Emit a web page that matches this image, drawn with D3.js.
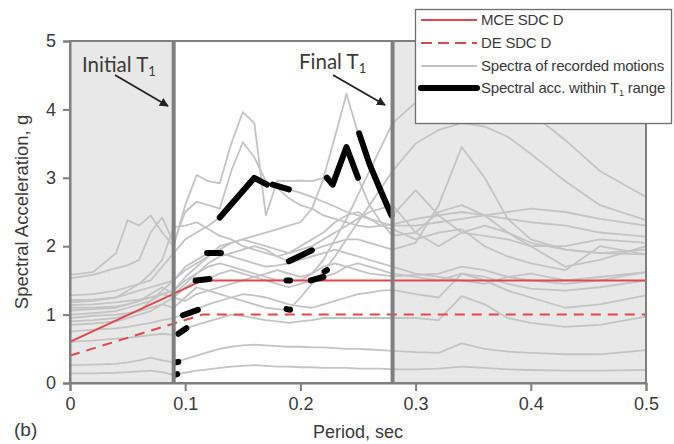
<!DOCTYPE html>
<html>
<head>
<meta charset="utf-8">
<script src="https://cdn.jsdelivr.net/npm/d3@7/dist/d3.min.js"></script>
<style>
  html, body { margin: 0; padding: 0; background: #fff; }
  svg { display: block; }
</style>
</head>
<body>
<svg id="chart" width="674" height="444"></svg>
<script>
// Periods (sec) at which each recorded spectrum is sampled
const periods = [0, 0.02, 0.04, 0.05, 0.06, 0.07, 0.08, 0.09,
  0.10, 0.11, 0.12, 0.13, 0.14, 0.15, 0.16, 0.17, 0.18, 0.19, 0.20, 0.21,
  0.22, 0.23, 0.24, 0.25, 0.26, 0.27, 0.28,
  0.30, 0.32, 0.34, 0.36, 0.38, 0.40, 0.43, 0.46, 0.50];

// Spectral acceleration (g) of the recorded ground motions
const rec01 = [1.58, 1.62, 1.9, 2.38, 2.3, 2.45, 2.2, 2.0, 2.6, 3.04, 2.95, 2.92, 3.5, 3.96, 3.8, 2.45, 2.96, 2.95, 2.96, 2.95, 3.0, 3.6, 4.23, 3.65, 3.2, 2.8, 2.45, 2.82, 2.45, 2.2, 2.15, 2.1, 2.0, 2.0, 2.1, 2.05];
const rec02 = [1.53, 1.58, 1.68, 1.72, 1.8, 2.2, 2.42, 2.05, 2.5, 2.65, 2.6, 2.55, 3.1, 3.52, 3.3, 2.95, 2.85, 2.7, 2.6, 2.55, 2.45, 2.4, 2.35, 2.3, 2.28, 2.3, 2.32, 2.4, 2.45, 2.5, 2.45, 2.4, 2.35, 2.3, 2.2, 2.14];
const rec03 = [1.28, 1.3, 1.35, 1.4, 1.45, 1.5, 1.7, 1.9, 2.1, 2.2, 2.3, 2.42, 2.62, 2.8, 3.0, 2.9, 2.88, 2.83, 2.78, 2.72, 2.65, 2.58, 2.5, 2.45, 2.4, 2.35, 2.3, 2.3, 2.35, 2.4, 2.45, 2.5, 2.55, 2.5, 2.4, 2.3];
const rec04 = [1.21, 1.22, 1.25, 1.3, 1.35, 1.4, 1.45, 1.5, 1.65, 1.75, 1.85, 1.95, 2.05, 2.1, 2.15, 2.2, 2.25, 2.3, 2.35, 2.55, 2.98, 2.9, 3.45, 3.0, 2.6, 2.35, 2.15, 2.2, 2.5, 2.6, 2.45, 2.2, 2.05, 1.95, 1.9, 1.88];
const rec05 = [1.14, 1.15, 1.18, 1.2, 1.22, 1.25, 1.3, 1.35, 1.55, 1.7, 1.85, 2.0, 2.05, 2.1, 2.05, 2.0, 1.95, 1.9, 1.95, 2.0, 2.1, 2.2, 2.3, 2.4, 2.5, 2.55, 2.6, 2.2, 2.0, 2.2, 2.3, 2.2, 2.0, 1.7, 1.8, 2.0];
const rec06 = [1.1, 1.1, 1.12, 1.15, 1.2, 1.3, 1.4, 1.3, 1.45, 1.6, 1.7, 1.75, 1.7, 1.65, 1.6, 1.55, 1.5, 1.5, 1.5, 1.6, 1.8, 2.1, 2.4, 2.75, 3.1, 3.45, 3.8, 4.1, 4.3, 4.35, 4.3, 4.2, 3.95, 3.55, 3.1, 2.72];
const rec07 = [0.95, 0.98, 1.0, 1.02, 1.05, 1.1, 1.15, 1.1, 1.25, 1.4, 1.35, 1.3, 1.25, 1.2, 1.15, 1.1, 1.08, 1.07, 1.25, 1.45, 1.63, 1.85, 2.1, 2.35, 2.6, 2.85, 3.1, 3.5, 3.7, 3.8, 3.75, 3.6, 3.35, 2.95, 2.6, 2.38];
const rec08 = [1.06, 1.08, 1.1, 1.15, 1.2, 1.25, 1.3, 1.35, 1.5, 1.6, 1.75, 1.85, 1.9, 1.95, 2.0, 1.95, 1.85, 1.78, 1.86, 1.94, 2.0, 2.05, 2.1, 2.1, 2.05, 2.0, 1.95, 2.05, 2.6, 3.45, 3.0, 2.4, 2.1, 1.95, 1.9, 1.95];
const rec09 = [0.9, 0.92, 0.95, 1.0, 1.05, 1.2, 1.35, 1.5, 1.7, 1.8, 1.9, 1.9, 1.85, 1.8, 1.75, 1.7, 1.72, 1.75, 1.8, 1.85, 1.9, 1.95, 1.9, 1.85, 1.8, 1.75, 1.7, 1.6, 1.55, 1.5, 1.45, 1.55, 1.6, 1.5, 1.55, 1.62];
const rec10 = [0.85, 0.87, 0.9, 0.95, 1.0, 1.05, 1.15, 1.25, 1.4, 1.5, 1.52, 1.6, 1.65, 1.6, 1.55, 1.5, 1.45, 1.4, 1.45, 1.5, 1.55, 1.6, 1.7, 1.75, 1.7, 1.65, 1.6, 1.55, 1.5, 1.6, 1.55, 1.45, 1.38, 1.35, 1.4, 1.5];
const rec11 = [0.75, 0.78, 0.8, 0.82, 0.85, 0.88, 0.92, 0.95, 1.02, 1.08, 1.15, 1.2, 1.25, 1.3, 1.28, 1.25, 1.2, 1.15, 1.12, 1.1, 1.15, 1.2, 1.25, 1.3, 1.32, 1.35, 1.36, 1.3, 1.25, 1.6, 1.5, 1.35, 1.25, 1.1, 1.15, 1.28];
const rec12 = [0.6, 0.62, 0.65, 0.66, 0.68, 0.7, 0.72, 0.7, 0.8, 0.85, 0.9, 0.95, 1.0, 0.98, 0.95, 0.92, 0.9, 0.88, 0.9, 0.92, 0.95, 0.95, 0.95, 0.95, 0.95, 0.95, 0.95, 0.95, 0.92, 1.27, 1.15, 0.95, 0.88, 0.82, 0.85, 0.97];
const rec13 = [0.26, 0.27, 0.28, 0.3, 0.33, 0.37, 0.33, 0.3, 0.35, 0.4, 0.45, 0.5, 0.53, 0.55, 0.56, 0.55, 0.54, 0.53, 0.53, 0.52, 0.52, 0.51, 0.5, 0.5, 0.49, 0.48, 0.47, 0.45, 0.44, 0.58, 0.5, 0.46, 0.44, 0.42, 0.42, 0.48];
const rec14 = [0.14, 0.14, 0.15, 0.16, 0.17, 0.18, 0.16, 0.12, 0.15, 0.18, 0.2, 0.22, 0.24, 0.25, 0.26, 0.25, 0.24, 0.24, 0.23, 0.23, 0.22, 0.22, 0.22, 0.21, 0.21, 0.21, 0.2, 0.2, 0.21, 0.24, 0.22, 0.2, 0.19, 0.18, 0.18, 0.19];
const rec15 = [1.18, 1.2, 1.25, 1.35, 1.45, 1.6, 1.8, 2.28, 2.3, 2.35, 2.25, 2.15, 2.1, 2.0, 1.95, 1.9, 1.85, 1.9, 2.0, 2.1, 2.2, 2.35, 2.45, 2.5, 2.4, 2.3, 2.25, 2.1, 2.2, 2.25, 2.0, 1.85, 1.75, 1.65, 2.0, 1.88];
const rec16 = [1.0, 1.02, 1.05, 1.1, 1.15, 1.2, 1.3, 1.25, 1.2, 1.3, 1.35, 1.4, 1.45, 1.5, 1.55, 1.6, 1.65, 1.6, 1.55, 1.6, 1.7, 1.75, 1.7, 1.65, 1.6, 1.58, 1.56, 1.58, 1.6, 1.7, 1.65, 1.55, 1.5, 1.45, 1.5, 1.62];
const recorded = [rec01, rec02, rec03, rec04, rec05, rec06, rec07, rec08,
                  rec09, rec10, rec11, rec12, rec13, rec14, rec15, rec16];

// Design spectra, SDC D: [period, Sa]
const mceSpectrum = [[0, 0.6], [0.115, 1.5], [0.5, 1.5]];
const deSpectrum  = [[0, 0.4], [0.115, 1.0], [0.5, 1.0]];

// Parts of each spectrum lying inside that motion's T1 range: [period, Sa]
const t1Segments = [
  [[0.13, 2.42], [0.16, 3.0], [0.171, 2.9]],
  [[0.176, 2.9], [0.19, 2.83]],
  [[0.223, 3.0], [0.228, 2.9], [0.24, 3.45], [0.25, 3.0]],
  [[0.251, 3.65], [0.26, 3.2], [0.27, 2.8], [0.279, 2.45]],
  [[0.119, 1.9], [0.131, 1.9]],
  [[0.19, 1.78], [0.21, 1.94]],
  [[0.109, 1.5], [0.121, 1.52]],
  [[0.188, 1.5], [0.191, 1.5]],
  [[0.209, 1.5], [0.22, 1.55]],
  [[0.221, 1.63], [0.223, 1.65]],
  [[0.188, 1.08], [0.191, 1.07]],
  [[0.098, 0.99], [0.111, 1.07]],
  [[0.094, 0.72], [0.101, 0.8]],
  [[0.092, 0.3], [0.094, 0.31]],
  [[0.091, 0.12], [0.093, 0.13]]
];

// Fundamental period bounds (sec)
const initialT1 = 0.09;
const finalT1 = 0.28;

const xTicks = [0, 0.1, 0.2, 0.3, 0.4, 0.5];
const yTicks = [0, 1, 2, 3, 4, 5];

const legendItems = [
  { label: "MCE SDC D", kind: "mce" },
  { label: "DE SDC D", kind: "de" },
  { label: "Spectra of recorded motions", kind: "rec" },
  { label: "Spectral acc. within T", sub: "1", after: " range", kind: "t1" }
];

// ---- drawing ----
const svg = d3.select("#chart");
const x = d3.scaleLinear().domain([0, 0.5]).range([70, 646]);
const y = d3.scaleLinear().domain([0, 5]).range([383, 41]);

const gridGray = "#7f7f7f";
const recGray = "#c4c4c4";
const red = "#e2474d";
const shade = "#e8e8e8";
const inkColor = "#3a3a3a";

svg.append("defs").append("clipPath").attr("id", "plotClip")
  .append("rect")
  .attr("x", x(0)).attr("y", y(5))
  .attr("width", x(0.5) - x(0)).attr("height", y(0) - y(5));

// Shaded period ranges outside the T1 window
svg.append("rect")
  .attr("x", x(0)).attr("y", y(5))
  .attr("width", x(initialT1) - x(0)).attr("height", y(0) - y(5))
  .attr("fill", shade);
svg.append("rect")
  .attr("x", x(finalT1)).attr("y", y(5))
  .attr("width", x(0.5) - x(finalT1)).attr("height", y(0) - y(5))
  .attr("fill", shade);

const plot = svg.append("g").attr("clip-path", "url(#plotClip)");

const line = d3.line().x(d => x(d[0])).y(d => y(d[1]));

// Recorded spectra
plot.selectAll("path.rec")
  .data(recorded)
  .join("path")
  .attr("class", "rec")
  .attr("d", vals => line(vals.map((v, i) => [periods[i], v])))
  .attr("fill", "none")
  .attr("stroke", recGray)
  .attr("stroke-width", 1.8)
  .attr("stroke-linejoin", "round");

// Design spectra
plot.append("path")
  .attr("d", line(mceSpectrum))
  .attr("fill", "none").attr("stroke", red).attr("stroke-width", 2);
plot.append("path")
  .attr("d", line(deSpectrum))
  .attr("fill", "none").attr("stroke", red).attr("stroke-width", 2)
  .attr("stroke-dasharray", "10,7");

// T1 bounds
[initialT1, finalT1].forEach(t => {
  svg.append("line")
    .attr("x1", x(t)).attr("x2", x(t))
    .attr("y1", y(0)).attr("y2", y(5))
    .attr("stroke", gridGray).attr("stroke-width", 4);
});

// Spectral acceleration inside the T1 range
plot.selectAll("path.t1")
  .data(t1Segments)
  .join("path")
  .attr("class", "t1")
  .attr("d", line)
  .attr("fill", "none")
  .attr("stroke", "#000")
  .attr("stroke-width", 6)
  .attr("stroke-linecap", "round")
  .attr("stroke-linejoin", "round");

// Frame
svg.append("rect")
  .attr("x", x(0)).attr("y", y(5))
  .attr("width", x(0.5) - x(0)).attr("height", y(0) - y(5))
  .attr("fill", "none").attr("stroke", gridGray).attr("stroke-width", 2);

// Axes
const axisFont = "'Liberation Sans', Arial, sans-serif";
const xAxis = svg.append("g")
  .attr("transform", `translate(0,${y(0)})`)
  .call(d3.axisBottom(x).tickValues(xTicks).tickSize(8).tickPadding(6)
        .tickFormat(d => d === 0 ? "0" : d3.format(".1f")(d)));
const yAxis = svg.append("g")
  .attr("transform", `translate(${x(0)},0)`)
  .call(d3.axisLeft(y).tickValues(yTicks).tickSize(7).tickPadding(7)
        .tickFormat(d3.format("d")));
[xAxis, yAxis].forEach(g => {
  g.select(".domain").attr("stroke", gridGray).attr("stroke-width", 2);
  g.selectAll(".tick line").attr("stroke", gridGray).attr("stroke-width", 2);
  g.selectAll(".tick text")
    .attr("fill", inkColor).attr("font-size", 18).attr("font-family", axisFont);
});

svg.append("text")
  .attr("x", (x(0) + x(0.5)) / 2).attr("y", 438)
  .attr("text-anchor", "middle")
  .attr("font-family", axisFont).attr("font-size", 18).attr("fill", inkColor)
  .text("Period, sec");

svg.append("text")
  .attr("transform", `translate(28,${(y(0) + y(5)) / 2}) rotate(-90)`)
  .attr("text-anchor", "middle")
  .attr("font-family", axisFont).attr("font-size", 18.5).attr("fill", inkColor)
  .text("Spectral Acceleration, g");

svg.append("text")
  .attr("x", 14).attr("y", 436)
  .attr("font-family", axisFont).attr("font-size", 19).attr("fill", inkColor)
  .text("(b)");

// Annotations for the T1 bounds
const noteFont = "Lato, 'Open Sans', sans-serif";
svg.append("defs").append("marker")
  .attr("id", "arrowHead")
  .attr("viewBox", "0 0 10 10").attr("refX", 9).attr("refY", 5)
  .attr("markerWidth", 5).attr("markerHeight", 5).attr("orient", "auto")
  .append("path").attr("d", "M0,0 L10,5 L0,10 z").attr("fill", "#222");

function note(tx, ty, word, ax1, ay1, ax2, ay2) {
  const t = svg.append("text")
    .attr("x", tx).attr("y", ty)
    .attr("font-family", noteFont).attr("font-size", 20.5).attr("fill", inkColor);
  t.append("tspan").text(word + " T");
  t.append("tspan").attr("font-size", 13).attr("dy", 4).text("1");
  svg.append("line")
    .attr("x1", ax1).attr("y1", ay1).attr("x2", ax2).attr("y2", ay2)
    .attr("stroke", "#222").attr("stroke-width", 1.8)
    .attr("marker-end", "url(#arrowHead)");
}
note(82, 72, "Initial", 115, 75, 168, 106);
note(299, 69, "Final", 333, 75, 385, 105);

// Legend
const legend = svg.append("g");
legend.append("rect")
  .attr("x", 415.5).attr("y", 9.5).attr("width", 256).attr("height", 114)
  .attr("fill", "#fff").attr("stroke", "#6e6e6e").attr("stroke-width", 1.3);

const rowY = [20, 43, 66, 88];
legendItems.forEach((item, i) => {
  const ly = rowY[i];
  const ln = legend.append("line")
    .attr("x1", 421).attr("x2", 477).attr("y1", ly).attr("y2", ly);
  if (item.kind === "mce") ln.attr("stroke", red).attr("stroke-width", 2);
  if (item.kind === "de") ln.attr("stroke", red).attr("stroke-width", 2).attr("stroke-dasharray", "11,6");
  if (item.kind === "rec") ln.attr("stroke", recGray).attr("stroke-width", 1.8);
  if (item.kind === "t1") ln.attr("stroke", "#000").attr("stroke-width", 6).attr("stroke-linecap", "round");
  const t = legend.append("text")
    .attr("x", 481).attr("y", ly + 5)
    .attr("font-family", axisFont).attr("font-size", 15).attr("letter-spacing", -0.2)
    .attr("fill", inkColor);
  t.append("tspan").text(item.label);
  if (item.sub) {
    t.append("tspan").attr("font-size", 9).attr("dy", 3).text(item.sub);
    t.append("tspan").attr("dy", -3).text(item.after);
  }
});
</script>
</body>
</html>
